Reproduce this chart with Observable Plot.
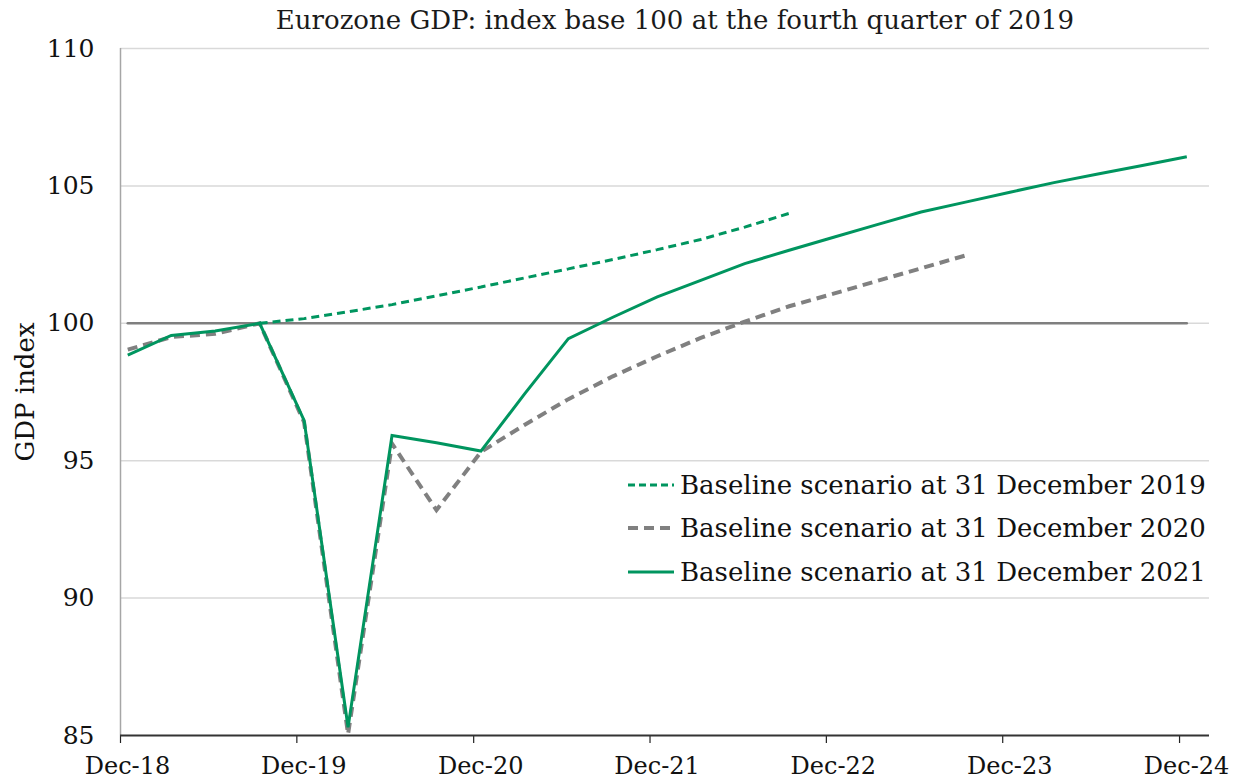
<!DOCTYPE html>
<html>
<head>
<meta charset="utf-8">
<script src="https://cdn.jsdelivr.net/npm/d3@7"></script>
<script src="https://cdn.jsdelivr.net/npm/@observablehq/plot@0.6"></script>
<style>
  html, body { margin: 0; padding: 0; background: #fff; }
  #wrap { position: relative; width: 1236px; height: 780px; font-family: "DejaVu Serif", serif; color: #111; overflow: hidden; }
  #title { position: absolute; left: 114px; right: 0; top: 0px; height: 28px; line-height: 28px; padding-top: 6px; text-align: center; font-size: 26px; color: #1a1a1a; white-space: nowrap; }
  #chart { position: absolute; left: 0; top: 34px; }
  #legend { position: absolute; left: 628px; top: 0; }
  .row { position: absolute; left: 0; height: 30px; line-height: 30px; white-space: nowrap; font-size: 26px; display: flex; align-items: center; }
  .row svg { margin-right: 6px; }
</style>
</head>
<body>
<div id="wrap">
  <div id="title"></div>
  <div id="chart"></div>
  <div id="legend"></div>
</div>
<script>
// ---- data ----
const titleText = "Eurozone GDP: index base 100 at the fourth quarter of 2019";
const yLabel = "GDP index";
const quarters = ["2019Q1","2019Q2","2019Q3","2019Q4","2020Q1","2020Q2","2020Q3","2020Q4",
  "2021Q1","2021Q2","2021Q3","2021Q4","2022Q1","2022Q2","2022Q3","2022Q4",
  "2023Q1","2023Q2","2023Q3","2023Q4","2024Q1","2024Q2","2024Q3","2024Q4","2025Q1"];
// Baseline scenario at 31 December 2021 (2019Q1 - 2025Q1)
const gdp2021 = [98.84, 99.56, 99.72, 100, 96.47, 85.3, 95.92, 95.65,
  95.35, 97.42, 99.44, 100.22, 100.96, 101.56, 102.17, 102.66,
  103.13, 103.59, 104.05, 104.41, 104.77, 105.12, 105.43, 105.74, 106.06];
// Baseline scenario at 31 December 2020 (2019Q1 - 2023Q4)
const gdp2020 = [99.04, 99.5, 99.62, 100, 96.4, 85.05, 95.62, 93.2,
  95.32, 96.3, 97.24, 98.07, 98.8, 99.47, 100.06, 100.62,
  101.08, 101.54, 102.0, 102.47];
// Baseline scenario at 31 December 2019 (2019Q4 - 2022Q4)
const gdp2019Start = "2019Q4";
const gdp2019 = [100, 100.17, 100.42, 100.68, 101.0, 101.32, 101.65, 101.98,
  102.32, 102.68, 103.05, 103.5, 104.0];
const baseValue = 100;
const seriesNames = ["Baseline scenario at 31 December 2019", "Baseline scenario at 31 December 2020", "Baseline scenario at 31 December 2021"];
const xTickYears = [2018, 2019, 2020, 2021, 2022, 2023, 2024];
const xTickLabels = ["Dec-18", "Dec-19", "Dec-20", "Dec-21", "Dec-22", "Dec-23", "Dec-24"];
const yTicks = [85, 90, 95, 100, 105, 110];

// ---- helpers ----
const qDate = q => new Date(Date.UTC(+q.slice(0, 4), (+q.slice(5) - 1) * 3, 15));
const s2021 = quarters.map((q, i) => ({date: qDate(q), value: gdp2021[i]}));
const s2020 = gdp2020.map((v, i) => ({date: qDate(quarters[i]), value: v}));
const off2019 = quarters.indexOf(gdp2019Start);
const s2019 = gdp2019.map((v, i) => ({date: qDate(quarters[off2019 + i]), value: v}));
const sBase = quarters.map(q => ({date: qDate(q), value: baseValue}));
const xTicks = xTickYears.map(y => new Date(Date.UTC(y, 11, 31)));
const tickLabelMap = new Map(xTicks.map((d, i) => [+d, xTickLabels[i]]));

const GREEN = "#00955f";
const GRAY = "#808080";

document.getElementById("title").textContent = titleText;

const chart = Plot.plot({
  width: 1236,
  height: 746,
  marginTop: 14,
  marginBottom: 45,
  marginLeft: 120,
  marginRight: 27,
  style: {fontFamily: "DejaVu Serif, serif", fontSize: "25px", color: "#111", background: "#fff", overflow: "visible"},
  x: {type: "utc", domain: [new Date(Date.UTC(2018, 11, 31)), new Date(Date.UTC(2025, 2, 3))]},
  y: {domain: [85, 110]},
  marks: [
    Plot.gridY([90, 95, 100, 105, 110], {stroke: "#d9d9d9", strokeOpacity: 1, strokeWidth: 1.5}),
    Plot.ruleX([new Date(Date.UTC(2018, 11, 31))], {stroke: "#a6a6a6", strokeWidth: 1.5}),
    Plot.axisY(yTicks, {tickSize: 0, tickPadding: 26, label: null, fontSize: 25}),
    Plot.text([yLabel], {frameAnchor: "left", rotate: -90, dx: -87, textAnchor: "middle", lineAnchor: "bottom", fontSize: 26, fill: "#111"}),
    Plot.axisX(xTicks, {tickSize: 8, tickFormat: () => "", label: null, stroke: "#222", strokeWidth: 1.2}),
    Plot.axisX(xTicks, {tickSize: 0, tickPadding: 21, tickFormat: d => tickLabelMap.get(+d), label: null, dx: 7, fontSize: 24}),
    Plot.ruleY([85], {stroke: "#333", strokeWidth: 2}),
    Plot.line(sBase, {x: "date", y: "value", stroke: "#7f7f7f", strokeWidth: 2.5}),
    Plot.line(s2020, {x: "date", y: "value", stroke: GRAY, strokeWidth: 4, strokeDasharray: "10,6", strokeLinecap: "butt", strokeLinejoin: "miter", strokeMiterlimit: 4}),
    Plot.line(s2019, {x: "date", y: "value", stroke: GREEN, strokeWidth: 3, strokeDasharray: "8,5", strokeLinecap: "butt", strokeLinejoin: "miter"}),
    Plot.line(s2021, {x: "date", y: "value", stroke: GREEN, strokeWidth: 3, strokeLinecap: "butt", strokeLinejoin: "miter", strokeMiterlimit: 4})
  ]
});
document.getElementById("chart").appendChild(chart);

// legend
const legendItems = [
  {name: seriesNames[0], color: GREEN, dash: "7,4", width: 3},
  {name: seriesNames[1], color: GRAY, dash: "10,6", width: 4},
  {name: seriesNames[2], color: GREEN, dash: null, width: 3}
];
const rowTops = [470, 513, 557];
const legend = document.getElementById("legend");
legendItems.forEach((it, i) => {
  const row = document.createElement("div");
  row.className = "row";
  row.style.top = rowTops[i] + "px";
  row.innerHTML = `<svg width="46" height="10"><line x1="0" x2="46" y1="5" y2="5" stroke="${it.color}" stroke-width="${it.width}" ${it.dash ? `stroke-dasharray="${it.dash}"` : ""}/></svg><span>${it.name}</span>`;
  legend.appendChild(row);
});
</script>
</body>
</html>
